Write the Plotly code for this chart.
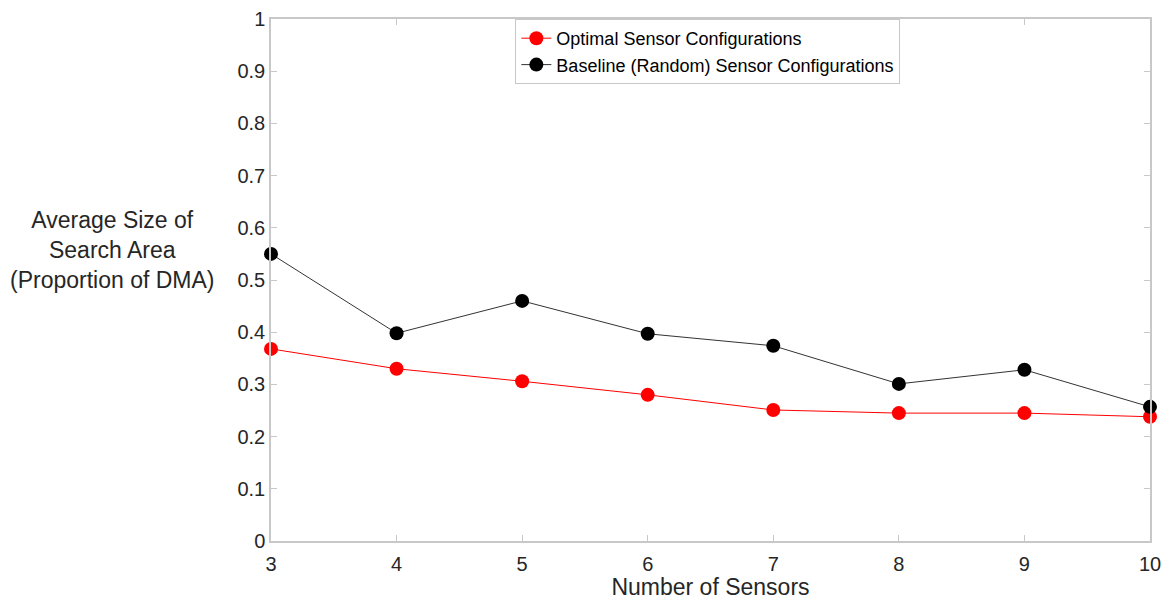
import plotly.graph_objects as go

sensors = [3, 4, 5, 6, 7, 8, 9, 10]
optimal = [0.368, 0.330, 0.306, 0.280, 0.251, 0.245, 0.245, 0.238]
baseline = [0.550, 0.398, 0.460, 0.397, 0.374, 0.301, 0.328, 0.257]
y_ticks = [0, 0.1, 0.2, 0.3, 0.4, 0.5, 0.6, 0.7, 0.8, 0.9, 1]
y_tick_text = ["0", "0.1", "0.2", "0.3", "0.4", "0.5", "0.6", "0.7", "0.8", "0.9", "1"]

fig = go.Figure()
fig.add_trace(go.Scatter(
    x=sensors, y=optimal, mode="lines+markers", name="Optimal Sensor Configurations",
    line=dict(color="#ff0000", width=1), marker=dict(color="#ff0000", size=14),
    cliponaxis=False))
fig.add_trace(go.Scatter(
    x=sensors, y=baseline, mode="lines+markers", name="Baseline (Random) Sensor Configurations",
    line=dict(color="#333333", width=1), marker=dict(color="#000000", size=14),
    cliponaxis=False))

axis_common = dict(
    showline=True, linecolor="#c8c8c8", linewidth=1.5, mirror="ticks",
    ticks="inside", ticklen=6, tickcolor="#c8c8c8", showgrid=False, zeroline=False,
    automargin=False,
    tickfont=dict(family="Liberation Sans, Arial", size=20, color="#262626"),
)

fig.update_layout(
    width=1173, height=600,
    margin=dict(l=271, r=23, t=19, b=59),
    paper_bgcolor="white", plot_bgcolor="white",
    font=dict(family="Liberation Sans, Arial", color="#262626"),
    xaxis=dict(range=[3, 10], tickmode="array", tickvals=sensors, ticklabelstandoff=4,
               title=dict(text="Number of Sensors", font=dict(size=23, color="#262626"), standoff=2),
               **axis_common),
    yaxis=dict(range=[0, 1], tickmode="array", tickvals=y_ticks, ticktext=y_tick_text,
               **axis_common),
    legend=dict(x=0.278, y=1.0, xanchor="left", yanchor="top",
                bgcolor="white", bordercolor="#c8c8c8", borderwidth=1,
                font=dict(size=18, color="#000000"), tracegroupgap=0,
                itemwidth=30),
    showlegend=True,
)

fig.add_annotation(
    text="Average Size of<br>Search Area<br>(Proportion of DMA)",
    xref="paper", yref="paper", x=-0.18, y=0.557, xanchor="center", yanchor="middle",
    showarrow=False, align="center", font=dict(size=23, color="#262626"))

fig.write_html("out.html")
